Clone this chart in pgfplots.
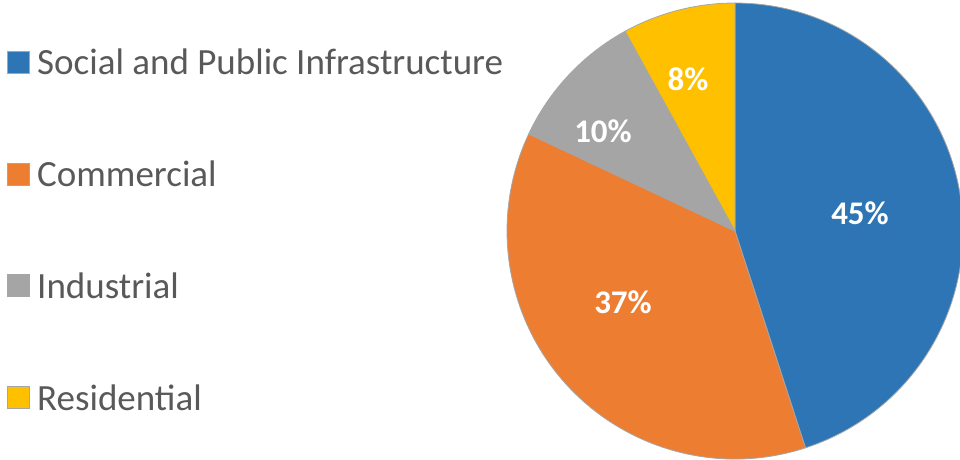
\documentclass[border=0pt]{standalone}
\usepackage{pgfplots}
\usepackage{pgfplotstable}
\usepackage{fontspec}
\setmainfont{Carlito}
\pgfplotsset{compat=1.18}

\definecolor{pie0}{HTML}{2E75B6}
\definecolor{pie1}{HTML}{ED7D31}
\definecolor{pie2}{HTML}{A5A5A5}
\definecolor{pie3}{HTML}{FFC000}
\definecolor{piebd}{HTML}{A6A6A6}
\definecolor{legtext}{HTML}{595959}

% share in percent, label position in pixels (y counted from the top)
\pgfplotstableread{
name share lx ly
{Social and Public Infrastructure} 45 860 213
{Commercial} 37 623 302
{Industrial} 10 603 131
{Residential} 8 688 79
}\piedata

% cumulative wedge angles, clockwise from 12 o'clock
\def\pieacc{90}
\pgfplotsforeachungrouped \i in {0,...,3}{%
  \pgfplotstablegetelem{\i}{share}\of\piedata
  \pgfmathsetmacro\pieend{\pieacc-3.6*\pgfplotsretval}%
  \expandafter\xdef\csname pieS\i\endcsname{\pieacc}%
  \expandafter\xdef\csname pieE\i\endcsname{\pieend}%
  \pgfplotstablegetelem{\i}{name}\of\piedata
  \expandafter\xdef\csname pieN\i\endcsname{\pgfplotsretval}%
  \global\let\pieacc\pieend
}

\begin{document}
\begin{tikzpicture}
\begin{axis}[
    width=960pt, height=459pt, scale only axis,
    xmin=0, xmax=960, ymin=0, ymax=459,
    y dir=reverse,
    hide axis,
    clip=false,
    /pgf/number format/assume math mode=true,
]
\pgfplotsinvokeforeach{0,...,3}{
  \fill[pie#1, draw=piebd, line width=0.8pt, line join=round]
    (axis cs:735,231) -- ++(\csname pieS#1\endcsname:228pt)
    arc[start angle=\csname pieS#1\endcsname, end angle=\csname pieE#1\endcsname, radius=228pt]
    -- cycle;
  \fill[pie#1, draw=piebd, line width=0.8pt]
    (axis cs:7,{51+111.9*#1}) rectangle (axis cs:29,{73+111.9*#1});
  \node[anchor=west, text=legtext, font=\fontsize{37}{40}\selectfont, inner sep=0pt]
    at (axis cs:37,{62+111.9*#1}) {\csname pieN#1\endcsname};
}
\addplot[draw=none, mark=none,
    point meta=\thisrow{share},
    nodes near coords={\pgfmathprintnumber{\pgfplotspointmeta}\%},
    nodes near coords style={anchor=center, text=white, inner sep=0pt,
      font=\fontsize{33}{36}\selectfont\bfseries},
] table[x=lx, y=ly] {\piedata};
\end{axis}
\pgfresetboundingbox
\path[use as bounding box] (current axis.south west) rectangle (current axis.north east);
\end{tikzpicture}
\end{document}
